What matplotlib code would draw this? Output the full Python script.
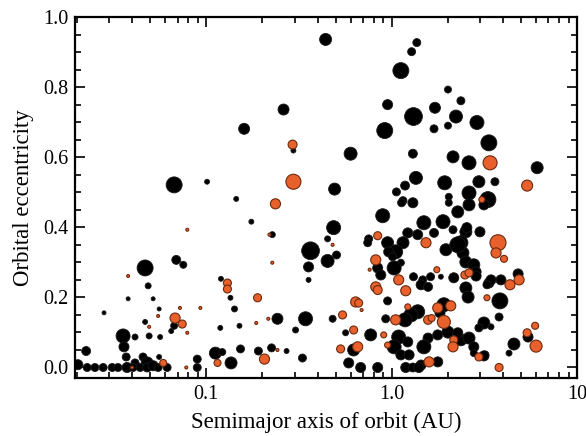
import numpy as np
import matplotlib
matplotlib.use('Agg')
import matplotlib.pyplot as plt
from matplotlib.ticker import FixedLocator, NullFormatter, MultipleLocator

# semimajor axis (AU), eccentricity, m sin i (Jupiter masses)
a_blk = [0.44, 1.365, 1.28, 1.12, 2.01, 2.36, 0.95, 1.71, 1.31, 2.22,
         2.88, 2.01, 1.69, 0.917, 3.34, 0.60, 1.30, 2.14, 2.61, 6.08,
         0.492, 1.35, 1.93, 2.95, 3.60, 1.18, 1.06, 2.61, 3.30, 2.03,
         2.03, 1.15, 1.30, 2.27, 0.261, 0.160, 0.295, 0.0671, 0.101, 0.145,
         0.175, 0.227, 0.486, 0.451, 0.365, 0.451, 0.504, 0.356, 0.356, 0.120,
         0.135, 0.142, 0.242, 0.343, 0.119, 0.151, 0.303, 0.480, 0.112, 0.122,
         0.136, 0.153, 0.191, 0.225, 0.271, 0.330,
         # hot jupiters
         0.0468, 0.0486, 0.0689, 0.0752, 0.0379, 0.0517, 0.0281, 0.0557, 0.0671, 0.0647,
         0.0468, 0.0492, 0.0564, 0.0413, 0.0356, 0.0360, 0.0370, 0.0225, 0.0456, 0.0480,
         0.0413, 0.0557, 0.0615, 0.0894, 0.0894,
         0.0203, 0.0228, 0.0251, 0.0278, 0.0311, 0.0334, 0.0374, 0.0403, 0.0440, 0.0480,
         0.0517, 0.0550,
         # main clump around 1 AU
         0.894, 1.13, 1.49, 1.89, 2.61, 2.99, 2.51, 2.14, 1.69, 1.22,
         1.38, 0.751, 0.742, 0.95, 1.15, 1.05, 0.963, 1.96, 2.36, 2.42,
         2.51, 2.77, 2.85, 1.01, 1.12, 0.84, 1.03, 0.873, 1.31, 1.47,
         1.62, 1.84, 2.16, 2.85, 1.44, 1.57, 2.51, 2.58, 3.34, 3.88,
         4.80, 0.95, 1.38, 1.27, 1.91, 1.82, 0.928, 1.18, 3.83, 3.79,
         3.14, 3.43, 2.95, 0.564, 0.770, 1.09, 1.03, 1.22, 1.12, 1.24,
         1.57, 1.49, 1.77, 2.01, 2.36, 2.61, 2.77, 2.77, 3.18, 1.77,
         1.44, 1.19, 1.30, 1.40, 0.84, 0.68, 0.586, 0.623, 4.29, 4.56,
         5.43, 3.14, 2.54, 2.27, 3.43, 3.26, 2.27, 3.14]
e_blk = [0.936, 0.927, 0.901, 0.847, 0.793, 0.761, 0.750, 0.741, 0.716, 0.716,
         0.699, 0.690, 0.681, 0.676, 0.641, 0.610, 0.610, 0.601, 0.584, 0.570,
         0.509, 0.541, 0.527, 0.530, 0.530, 0.519, 0.501, 0.498, 0.479, 0.487,
         0.470, 0.476, 0.470, 0.444, 0.736, 0.681, 0.619, 0.521, 0.530, 0.481,
         0.416, 0.379, 0.399, 0.367, 0.333, 0.304, 0.321, 0.287, 0.250, 0.253,
         0.199, 0.167, 0.139, 0.139, 0.113, 0.119, 0.107, 0.139, 0.041, 0.044,
         0.013, 0.053, 0.047, 0.056, 0.047, 0.027,
         0.284, 0.233, 0.307, 0.293, 0.196, 0.196, 0.156, 0.167, 0.119, 0.104,
         0.130, 0.090, 0.087, 0.087, 0.090, 0.059, 0.030, 0.047, 0.030, 0.013,
         0.013, 0.030, 0.0, 0.024, 0.0,
         0.008, 0.0, 0.0, 0.0, 0.0, 0.0, 0.0, 0.0, 0.0, 0.0,
         0.005, 0.0,
         0.433, 0.470, 0.413, 0.416, 0.464, 0.387, 0.387, 0.393, 0.384, 0.384,
         0.379, 0.367, 0.356, 0.356, 0.356, 0.330, 0.330, 0.336, 0.356, 0.327,
         0.301, 0.293, 0.273, 0.316, 0.299, 0.284, 0.284, 0.264, 0.259, 0.250,
         0.259, 0.259, 0.256, 0.261, 0.236, 0.230, 0.227, 0.201, 0.241, 0.250,
         0.267, 0.190, 0.159, 0.150, 0.179, 0.156, 0.139, 0.136, 0.190, 0.144,
         0.127, 0.116, 0.113, 0.099, 0.093, 0.087, 0.059, 0.073, 0.036, 0.036,
         0.084, 0.059, 0.093, 0.101, 0.079, 0.084, 0.059, 0.041, 0.036, 0.016,
         0.007, 0.0, 0.0, 0.0, 0.0, 0.0, 0.013, 0.050, 0.041, 0.067,
         0.087, 0.464, 0.399, 0.350, 0.250, 0.236, 0.099, 0.033]
m_blk = [3.4, 1, 1, 8, 0.67, 1, 2, 2.6, 11, 4.3,
         5.4, 0.67, 1, 8, 8, 4.3, 1.4, 3.4, 5.4, 3.4,
         3.4, 4.3, 5.4, 3.4, 1, 1.4, 1, 5.4, 8, 0.67,
         0.67, 1, 2, 3.4, 2.6, 2.6, 0.24, 8, 0.24, 0.24,
         0.24, 0.42, 5.4, 0.42, 11, 4.3, 1, 2, 0.24, 0.24,
         0.24, 0.42, 2.6, 5.4, 0.24, 0.24, 0.42, 0.67, 3.4, 0.67,
         3.4, 1, 1, 1, 0.24, 1,
         8, 0.42, 1.4, 0.67, 0.125, 0.125, 0.125, 0.125, 0.67, 0.24,
         0.24, 0.42, 0.24, 0.42, 5.4, 2, 1, 1.4, 1, 3.4,
         1, 0.24, 1, 1, 1,
         2, 1, 1, 1, 1, 1, 2, 1, 1, 1.4,
         2, 1,
         5.4, 1, 5.4, 5.4, 3.4, 2, 3.4, 1, 1.4, 2,
         2, 1, 1, 3.4, 3.4, 5.4, 2, 3.4, 5.4, 3.4,
         3.4, 3.4, 2, 1, 0.67, 2, 5.4, 2, 1, 1,
         1, 0.24, 2, 2, 2, 1.4, 3.4, 3.4, 2, 2,
         2, 1, 5.4, 5.4, 5.4, 2, 1, 5.4, 8, 1,
         3.4, 0.42, 1, 0.42, 3.4, 5.4, 5.4, 2, 2, 2,
         2, 5.4, 2, 3.4, 3.4, 3.4, 2, 0.67, 1, 2,
         2, 2, 1.4, 2, 2, 2, 2, 3.4, 0.42, 3.4,
         2, 2, 2, 8, 2, 1, 2, 2]

a_org = [0.292, 0.295, 0.236, 0.219, 0.48, 0.227, 0.130, 0.130, 0.189, 0.0929,
         0.216, 0.186, 0.115, 0.242, 0.206, 0.0379, 0.0550, 0.0679, 0.0742, 0.0721,
         0.0492, 0.0586, 0.078, 0.079, 0.079, 0.0398,
         0.84, 1.53, 0.82, 0.76, 1.09, 1.75, 2.48, 2.61, 0.82, 0.84,
         1.19, 4.34, 4.86, 0.639, 0.663, 0.688, 0.543, 1.22, 1.77, 2.08,
         1.57, 1.64, 1.91, 1.05, 3.26, 0.623, 0.905, 0.95, 2.16, 2.14,
         2.95, 1.59, 0.530, 0.655, 3.79, 5.37, 5.93, 6.0, 3.74, 3.65,
         4.03, 3.39, 5.37, 3.06]
e_org = [0.636, 0.530, 0.467, 0.379, 0.350, 0.299, 0.241, 0.224, 0.199, 0.170,
         0.139, 0.127, 0.013, 0.050, 0.024, 0.261, 0.147, 0.141, 0.124, 0.170,
         0.116, 0.013, 0.0, 0.099, 0.393, 0.0,
         0.376, 0.356, 0.307, 0.279, 0.250, 0.279, 0.264, 0.270, 0.230, 0.221,
         0.219, 0.236, 0.250, 0.187, 0.184, 0.164, 0.150, 0.173, 0.170, 0.176,
         0.136, 0.141, 0.130, 0.136, 0.199, 0.107, 0.093, 0.064, 0.079, 0.059,
         0.030, 0.016, 0.053, 0.059, 0.0, 0.099, 0.119, 0.061, 0.356, 0.327,
         0.310, 0.584, 0.519, 0.479]
m_org = [1.4, 6.6, 2, 0.05, 0.05, 0.05, 1, 1, 1, 0.05,
         0.05, 0.05, 0.67, 0.05, 2, 0.05, 0.05, 2, 1, 0.05,
         0.05, 0.67, 0.05, 0.05, 0.05, 0.05,
         1, 2, 2, 0.05, 2, 0.42, 1, 1, 2, 1.4,
         2, 2, 2, 2, 1, 0.05, 1, 0.42, 2, 2,
         1.4, 0.67, 4.3, 2, 0.42, 1, 0.42, 0.42, 1, 2,
         1, 2, 1, 2, 1, 1, 0.67, 3.4, 8, 2,
         0.67, 5.4, 2.6, 0.42]


def msize(m):
    # marker radius ~ cube root of mass, converted to points^2
    r = 4.0 * np.cbrt(np.asarray(m, dtype=float)) * 72 / 100
    return (2 * r) ** 2


plt.rcParams['font.family'] = ['Liberation Serif', 'DejaVu Serif']

fig = plt.figure(figsize=(5.86, 4.36), dpi=100)
ax = fig.add_axes([0.128, 0.133, 0.857, 0.828])

ax.scatter(a_blk, e_blk, s=msize(m_blk), c='black', edgecolors='#1a1a1a',
           linewidths=0.6, zorder=2)
ax.scatter(a_org, e_org, s=msize(m_org), c='#e8612c', edgecolors='#6b2a0e',
           linewidths=0.8, zorder=3)

ax.set_xscale('log')
ax.set_xlim(0.0196, 10.0)
ax.set_ylim(-0.03, 1.0)

ax.xaxis.set_major_locator(FixedLocator([0.1, 1.0, 10.0]))
ax.set_xticklabels(['0.1', '1.0', '10'])
ax.xaxis.set_minor_locator(FixedLocator([k * 10.0 ** p for p in (-2, -1, 0)
                                         for k in range(2, 10)]))
ax.xaxis.set_minor_formatter(NullFormatter())
ax.yaxis.set_major_locator(MultipleLocator(0.2))
ax.yaxis.set_minor_locator(MultipleLocator(0.05))
ax.set_yticks([0.0, 0.2, 0.4, 0.6, 0.8, 1.0])
ax.set_yticklabels(['0.0', '0.2', '0.4', '0.6', '0.8', '1.0'])

ax.tick_params(which='both', direction='in', top=True, right=True,
               labelsize=14.5, width=1.2, colors='black')
ax.tick_params(which='major', length=7, pad=5)
ax.tick_params(which='minor', length=4)
for sp in ax.spines.values():
    sp.set_linewidth(1.6)

ax.set_xlabel('Semimajor axis of orbit (AU)', fontsize=16.5, labelpad=6)
ax.set_ylabel('Orbital eccentricity', fontsize=16.5, labelpad=6)

fig.savefig('out.png', dpi=100)
